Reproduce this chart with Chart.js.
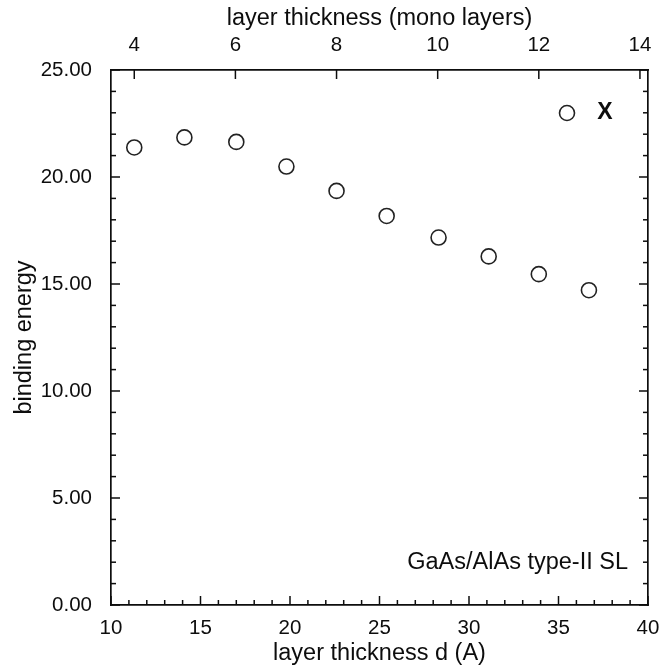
<!DOCTYPE html>
<html>
<head>
<meta charset="utf-8">
<script src="https://cdn.jsdelivr.net/npm/chart.js@4.4.1/dist/chart.umd.min.js"></script>
<style>
  html, body { margin: 0; padding: 0; background: #fff; }
  #wrap { width: 667px; height: 669px; }
</style>
</head>
<body>
<div id="wrap"><canvas id="grafica"></canvas></div>
<script>
// layer thickness d (A) and binding energy of each sample
const thickness = [11.3, 14.1, 17.0, 19.8, 22.6, 25.4, 28.3, 31.1, 33.9, 36.7]
const bindingEnergy = [21.38, 21.85, 21.64, 20.49, 19.35, 18.18, 17.17, 16.29, 15.46, 14.71]
const monoTicks = [4, 6, 8, 10, 12, 14]
const angstromPerMono = 2.825

const ink = "#0d0d0d"
const fontFam = "'Liberation Sans', Arial, Helvetica, sans-serif"
const tickFont = { family: fontFam, size: 20.5 }
const titleFont = { family: fontFam, size: 23.5 }
const frame = { display: true, color: ink, width: 1.7 }

// ticks point into the plot on all four sides
const tickMarks = {
    id: "tickMarks",
    afterDraw(chart) {
        const { ctx, chartArea: a, scales } = chart
        ctx.save()
        ctx.strokeStyle = ink
        ctx.lineWidth = 1.5
        const line = (x1, y1, x2, y2) => {
            ctx.beginPath()
            ctx.moveTo(x1, y1)
            ctx.lineTo(x2, y2)
            ctx.stroke()
        }
        for (let v = 10; v <= 40; v++) {
            const px = scales.x.getPixelForValue(v)
            line(px, a.bottom, px, a.bottom - (v % 5 === 0 ? 9 : 5))
        }
        monoTicks.forEach(v => {
            const px = scales.x2.getPixelForValue(v)
            line(px, a.top, px, a.top + 9)
        })
        for (let v = 0; v <= 25; v++) {
            const py = scales.y.getPixelForValue(v)
            const len = v % 5 === 0 ? 9 : 5
            line(a.left, py, a.left + len, py)
            line(a.right, py, a.right - len, py)
        }

        // legend entry
        ctx.lineWidth = 1.6
        ctx.strokeStyle = "#222"
        ctx.beginPath()
        ctx.arc(a.right - 81, a.top + 43, 7.5, 0, Math.PI * 2)
        ctx.stroke()
        ctx.fillStyle = ink
        ctx.font = "bold 23px " + fontFam
        ctx.textAlign = "center"
        ctx.textBaseline = "middle"
        ctx.fillText("X", a.right - 43, a.top + 43)

        // sample note
        ctx.font = "23.5px " + fontFam
        ctx.textAlign = "right"
        ctx.fillText("GaAs/AlAs type-II SL", a.right - 20, a.bottom - 42)
        ctx.restore()
    }
}

const ctx = document.getElementById("grafica").getContext("2d")
new Chart(ctx, {
    type: "scatter",
    data: {
        datasets: [{
            label: "X",
            data: thickness.map((d, i) => ({ x: d, y: bindingEnergy[i] })),
            pointStyle: "circle",
            pointRadius: 7.5,
            pointBorderWidth: 1.6,
            borderColor: "#222",
            backgroundColor: "rgba(0,0,0,0)",
            showLine: false
        }]
    },
    options: {
        responsive: true,
        maintainAspectRatio: false,
        animation: false,
        events: [],
        layout: { padding: 0 },
        plugins: {
            legend: { display: false },
            tooltip: { enabled: false }
        },
        scales: {
            x: {
                type: "linear",
                position: "bottom",
                min: 10,
                max: 40,
                grid: { display: false },
                border: frame,
                ticks: { stepSize: 5, font: tickFont, color: ink, padding: 3, maxRotation: 0 },
                title: { display: true, text: "layer thickness d (A)", font: titleFont, color: ink, padding: { top: 0, bottom: 1 } },
                afterFit(s) { s.height = 64 }
            },
            x2: {
                type: "linear",
                position: "top",
                min: 10 / angstromPerMono,
                max: 40 / angstromPerMono,
                grid: { display: false },
                border: frame,
                afterBuildTicks(s) { s.ticks = monoTicks.map(v => ({ value: v })) },
                ticks: { font: tickFont, color: ink, padding: 4, maxRotation: 0, autoSkip: false },
                title: { display: true, text: "layer thickness (mono layers)", font: titleFont, color: ink, padding: { top: 4, bottom: 0 } },
                afterFit(s) { s.height = 70 }
            },
            y: {
                type: "linear",
                position: "left",
                min: 0,
                max: 25,
                grid: { display: false },
                border: frame,
                ticks: { stepSize: 5, font: tickFont, color: ink, padding: 11, callback: v => v.toFixed(2) },
                title: { display: true, text: "binding energy", font: titleFont, color: ink, padding: { top: 10, bottom: 0 } },
                afterFit(s) { s.width = 111 }
            },
            y2: {
                type: "linear",
                position: "right",
                min: 0,
                max: 25,
                grid: { display: false },
                border: frame,
                ticks: { display: false },
                afterFit(s) { s.width = 19 }
            }
        }
    },
    plugins: [tickMarks]
})
</script>
</body>
</html>
